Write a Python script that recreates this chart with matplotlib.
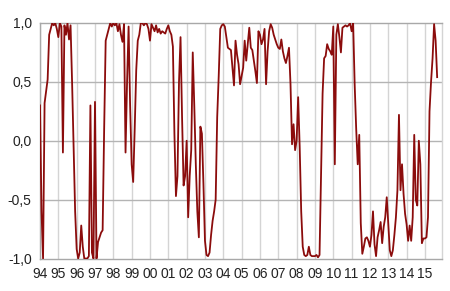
import matplotlib
matplotlib.use("Agg")
import matplotlib.pyplot as plt
import matplotlib.ticker as mticker
import numpy as np

plt.rcParams.update({
    "font.family": ["Liberation Sans", "DejaVu Sans"],
    "font.size": 10,
})

LINE = "#8b0c0c"
HGRID = "#b4b4b4"
VGRID = "#d4d4d4"
FRAME = "#a8a8a8"

# monthly values, Jan 1994 onwards
y1994 = [0.30, -0.60, -1.00, 0.32, 0.42, 0.52, 0.90, 0.95, 1.00, 0.98, 1.00, 0.95]
y1995 = [0.88, 1.00, 0.97, -0.10, 0.98, 0.90, 1.00, 0.86, 0.98, 0.50, -0.05, -0.60]
y1996 = [-0.92, -1.00, -0.95, -0.72, -0.90, -1.00, -1.00, -1.00, -0.98, 0.30, -0.95, -1.00]
y1997 = [0.33, -1.00, -0.86, -0.82, -0.78, -0.76, 0.10, 0.85, 0.90, 0.95, 1.00, 0.97]
y1998 = [1.00, 0.98, 1.00, 0.93, 0.99, 0.90, 0.84, 0.99, -0.10, 0.50, 0.97, 0.30]
y1999 = [-0.20, -0.35, 0.10, 0.60, 0.85, 0.90, 1.00, 1.00, 0.98, 1.00, 0.99, 0.95]
y2000 = [0.85, 0.99, 0.96, 0.93, 0.98, 0.92, 0.95, 0.91, 0.93, 0.92, 0.91, 0.95]
y2001 = [0.98, 0.93, 0.90, 0.80, 0.06, -0.47, -0.30, 0.50, 0.88, 0.20, -0.38, -0.30]
y2002 = [0.00, -0.65, -0.30, -0.08, 0.75, 0.30, -0.20, -0.60, -0.82, 0.12, 0.06, -0.37]
y2003 = [-0.85, -0.97, -0.98, -0.95, -0.80, -0.68, -0.60, -0.50, 0.20, 0.55, 0.95, 0.98]
y2004 = [0.99, 0.97, 0.88, 0.79, 0.78, 0.77, 0.62, 0.47, 0.85, 0.73, 0.65, 0.48]
y2005 = [0.55, 0.62, 0.85, 0.68, 0.82, 0.96, 0.79, 0.77, 0.68, 0.59, 0.49, 0.93]
y2006 = [0.90, 0.82, 0.86, 0.95, 0.48, 0.76, 0.93, 0.99, 0.96, 0.90, 0.86, 0.82]
y2007 = [0.79, 0.78, 0.86, 0.76, 0.70, 0.66, 0.72, 0.79, 0.48, -0.03, 0.14, -0.08]
y2008 = [0.00, 0.37, -0.05, -0.60, -0.90, -0.97, -0.98, -0.97, -0.90, -0.97, -0.98, -0.98]
y2009 = [-0.98, -0.97, -0.99, -0.97, -0.30, 0.40, 0.70, 0.72, 0.82, 0.78, 0.76, 0.73]
y2010 = [0.97, -0.20, 0.90, 0.99, 0.88, 0.75, 0.96, 0.97, 0.98, 0.97, 0.98, 1.00]
y2011 = [0.93, 1.00, 0.48, 0.10, -0.20, 0.05, -0.70, -0.96, -0.90, -0.83, -0.82, -0.85]
y2012 = [-0.90, -0.80, -0.60, -0.88, -0.98, -0.82, -0.76, -0.69, -0.87, -0.73, -0.65, -0.48]
y2013 = [-0.70, -0.93, -0.98, -0.93, -0.80, -0.65, -0.42, 0.22, -0.42, -0.20, -0.45, -0.62]
y2014 = [-0.71, -0.85, -0.72, -0.85, -0.65, 0.05, -0.50, -0.55, 0.00, -0.20, -0.87, -0.83]
y2015 = [-0.83, -0.82, -0.65, 0.25, 0.50, 0.70, 0.99, 0.85, 0.54]

values = (y1994 + y1995 + y1996 + y1997 + y1998 + y1999 + y2000 + y2001
          + y2002 + y2003 + y2004 + y2005 + y2006 + y2007 + y2008 + y2009
          + y2010 + y2011 + y2012 + y2013 + y2014 + y2015)
years = list(range(1994, 2016))
year_labels = [f"{y % 100:02d}" for y in years]
y_ticks = [-1.0, -0.5, 0.0, 0.5, 1.0]


def main() -> None:
    fig = plt.figure(figsize=(4.5, 2.91), dpi=100)
    ax = fig.add_axes([40 / 450, 1 - 258.5 / 291, (441.5 - 40) / 450, (258.5 - 23) / 291])

    t = 1994 + np.arange(len(values)) / 12.0
    ax.plot(t, values, color=LINE, lw=1.3, zorder=3)

    for yr in years:
        ax.axvline(yr, color=VGRID, lw=1.0, zorder=1)
    for yv in (-0.5, 0.0, 0.5):
        ax.axhline(yv, color=HGRID, lw=1.0, zorder=1)

    ax.set_xlim(1994, 1994 + (441.5 - 40) / 18.33)
    ax.set_ylim(-1.0, 1.0)
    ax.set_xticks(years)
    ax.set_xticklabels(year_labels)
    ax.set_yticks(y_ticks)
    ax.yaxis.set_major_formatter(mticker.FuncFormatter(lambda v, _: f"{v:.1f}".replace(".", ",")))
    ax.tick_params(length=0, labelsize=10, colors="#222222")
    ax.tick_params(axis="x", pad=6)
    ax.tick_params(axis="y", pad=6)

    for side in ("left", "bottom", "top", "right"):
        ax.spines[side].set_color(FRAME)
        ax.spines[side].set_linewidth(1.0)
    ax.spines["right"].set_color(VGRID)

    fig.savefig("out.png", dpi=100)
    plt.close(fig)


if __name__ == "__main__":
    main()
